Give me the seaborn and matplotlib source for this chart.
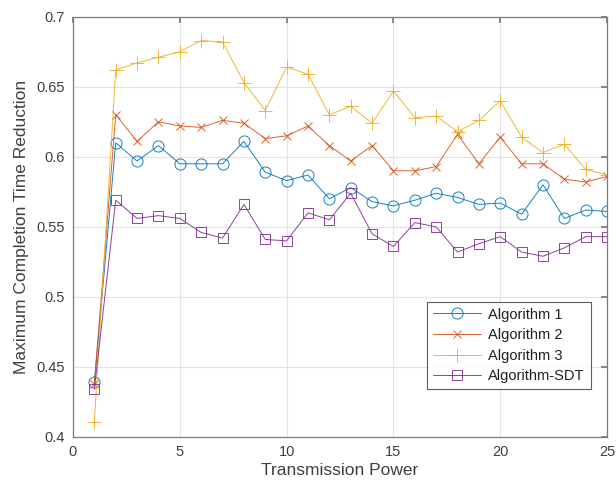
import matplotlib
matplotlib.use("Agg")
import matplotlib.pyplot as plt
import seaborn as sns
import pandas as pd

power = list(range(1, 26))
alg1 = [0.439, 0.610, 0.597, 0.608, 0.595, 0.595, 0.595, 0.611, 0.589, 0.583, 0.587, 0.570,
        0.578, 0.568, 0.565, 0.569, 0.574, 0.571, 0.566, 0.567, 0.559, 0.580, 0.556, 0.562, 0.561]
alg2 = [0.438, 0.630, 0.611, 0.625, 0.622, 0.621, 0.626, 0.624, 0.613, 0.615, 0.622, 0.608,
        0.597, 0.608, 0.590, 0.590, 0.593, 0.616, 0.595, 0.614, 0.595, 0.595, 0.584, 0.582, 0.586]
alg3 = [0.411, 0.662, 0.667, 0.671, 0.675, 0.683, 0.682, 0.653, 0.633, 0.664, 0.659, 0.630,
        0.636, 0.624, 0.647, 0.628, 0.629, 0.618, 0.626, 0.640, 0.614, 0.603, 0.609, 0.591, 0.587]
alg_sdt = [0.434, 0.569, 0.556, 0.558, 0.556, 0.546, 0.542, 0.566, 0.541, 0.540, 0.560, 0.555,
           0.574, 0.545, 0.536, 0.553, 0.550, 0.532, 0.538, 0.543, 0.532, 0.529, 0.535, 0.543, 0.543]

names = ["Algorithm 1", "Algorithm 2", "Algorithm 3", "Algorithm-SDT"]
series = [alg1, alg2, alg3, alg_sdt]
colors = ["#0072BD", "#D95319", "#EDB120", "#7E2F8E"]
markers = ["o", "x", "+", "s"]
msizes = [8, 6, 10, 6.5]

sns.set_theme(style="white")
plt.rcParams["font.family"] = ["Liberation Sans", "DejaVu Sans"]

fig = plt.figure(figsize=(6.16, 4.87), dpi=100)
ax = fig.add_axes([0.1185, 0.1027, 0.867, 0.8630])

for name, vals, c, m, ms in zip(names, series, colors, markers, msizes):
    df = pd.DataFrame({"x": power, "y": vals})
    sns.lineplot(data=df, x="x", y="y", ax=ax, color=c, marker=m, markersize=ms,
                 markerfacecolor="none", markeredgecolor=c, markeredgewidth=0.7,
                 linewidth=0.7, alpha=0.9, label=name)

ax.set_xlim(0, 25)
ax.set_ylim(0.4, 0.7)
ax.set_xticks([0, 5, 10, 15, 20, 25])
ax.set_yticks([0.4, 0.45, 0.5, 0.55, 0.6, 0.65, 0.7])
ax.set_yticklabels(["0.4", "0.45", "0.5", "0.55", "0.6", "0.65", "0.7"])
ax.grid(True, color="#e3e3e3", linewidth=0.8)
for s in ax.spines.values():
    s.set_color("#7a7a7a")
    s.set_linewidth(0.9)
ax.tick_params(axis="both", direction="in", length=4, color="#7a7a7a",
               labelsize=10.5, labelcolor="#404040", top=True, right=True, pad=6)
ax.tick_params(axis="x", labeltop=False)
ax.tick_params(axis="y", labelright=False)
ax.set_xlabel("Transmission Power", fontsize=12.5, color="#404040", labelpad=3)
ax.set_ylabel("Maximum Completion Time Reduction", fontsize=12.5, color="#404040", labelpad=5)

leg = ax.legend(loc="lower left", bbox_to_anchor=(0.663, 0.114), fontsize=10.5,
                frameon=True, fancybox=False, borderaxespad=0, handlelength=3.3,
                borderpad=0.4, labelspacing=0.45, handletextpad=0.5)
leg.get_frame().set_edgecolor("#333333")
leg.get_frame().set_linewidth(0.8)
for t in leg.get_texts():
    t.set_color("#202020")

fig.savefig("out.png", dpi=100)
